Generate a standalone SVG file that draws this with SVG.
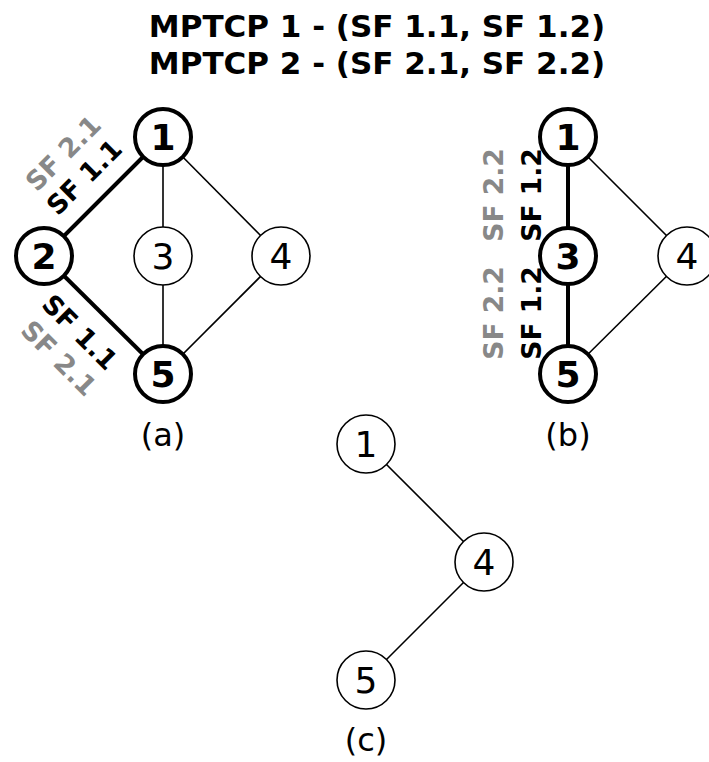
<svg xmlns="http://www.w3.org/2000/svg" width="709" height="762" viewBox="0 0 709 762">
<style>
text{font-family:"DejaVu Sans","Liberation Sans",sans-serif;text-anchor:middle;}
.title{font-size:31px;font-weight:bold;fill:#000;}
.cap{font-size:32px;fill:#000;}
.n circle{fill:#fff;stroke:#000;stroke-width:1.6;}
.n text{font-size:36px;fill:#000;}
.b circle{stroke-width:4;}
.b text{font-weight:bold;}
.e{stroke:#000;stroke-width:1.6;fill:none;}
.eb{stroke:#000;stroke-width:4;fill:none;}
.sf{font-size:26.5px;font-weight:bold;}
.k{fill:#000;}
.g{fill:#888;}
</style>
<rect width="709" height="762" fill="#fff"/>
<text class="title" x="377" y="37">MPTCP 1 - (SF 1.1, SF 1.2)</text>
<text class="title" x="377" y="74">MPTCP 2 - (SF 2.1, SF 2.2)</text>
<g id="connectors">
<line class="eb" x1="163" y1="137" x2="44" y2="256"/>
<line class="eb" x1="44" y1="256" x2="163" y2="374"/>
<line class="e" x1="163" y1="137" x2="163" y2="256"/>
<line class="e" x1="163" y1="256" x2="163" y2="374"/>
<line class="e" x1="163" y1="137" x2="281" y2="256"/>
<line class="e" x1="281" y1="256" x2="163" y2="374"/>
<line class="eb" x1="568" y1="137" x2="568" y2="256"/>
<line class="eb" x1="568" y1="256" x2="568" y2="374"/>
<line class="e" x1="568" y1="137" x2="687" y2="256"/>
<line class="e" x1="687" y1="256" x2="568" y2="374"/>
<line class="e" x1="366" y1="444" x2="484" y2="562"/>
<line class="e" x1="484" y1="562" x2="366" y2="680"/>
</g>
<g id="edge-labels">
<text class="sf k" transform="translate(84,177) rotate(-45)" x="0" y="9.5">SF 1.1</text>
<text class="sf g" transform="translate(63,153) rotate(-45)" x="0" y="9.5">SF 2.1</text>
<text class="sf k" transform="translate(80,332) rotate(45)" x="0" y="9.5">SF 1.1</text>
<text class="sf g" transform="translate(59,358) rotate(45)" x="0" y="9.5">SF 2.1</text>
<text class="sf k" transform="translate(531,195) rotate(-90)" x="0" y="9.5">SF 1.2</text>
<text class="sf g" transform="translate(493,195) rotate(-90)" x="0" y="9.5">SF 2.2</text>
<text class="sf k" transform="translate(531,313) rotate(-90)" x="0" y="9.5">SF 1.2</text>
<text class="sf g" transform="translate(493,313) rotate(-90)" x="0" y="9.5">SF 2.2</text>
</g>
<g id="a-n1" class="n b"><circle cx="163" cy="137" r="28"/><text x="163" y="150">1</text></g>
<g id="a-n2" class="n b"><circle cx="44" cy="256" r="28"/><text x="44" y="269">2</text></g>
<g id="a-n3" class="n"><circle cx="163" cy="256" r="29"/><text x="163" y="269">3</text></g>
<g id="a-n4" class="n"><circle cx="281" cy="256" r="29"/><text x="281" y="269">4</text></g>
<g id="a-n5" class="n b"><circle cx="163" cy="374" r="28"/><text x="163" y="387">5</text></g>
<g id="b-n1" class="n b"><circle cx="568" cy="137" r="28"/><text x="568" y="150">1</text></g>
<g id="b-n3" class="n b"><circle cx="568" cy="256" r="28"/><text x="568" y="269">3</text></g>
<g id="b-n4" class="n"><circle cx="687" cy="256" r="29"/><text x="687" y="269">4</text></g>
<g id="b-n5" class="n b"><circle cx="568" cy="374" r="28"/><text x="568" y="387">5</text></g>
<g id="c-n1" class="n"><circle cx="366" cy="444" r="29"/><text x="366" y="457">1</text></g>
<g id="c-n4" class="n"><circle cx="484" cy="562" r="29"/><text x="484" y="575">4</text></g>
<g id="c-n5" class="n"><circle cx="366" cy="680" r="29"/><text x="366" y="693">5</text></g>
<text class="cap" x="163" y="446">(a)</text>
<text class="cap" x="568" y="446">(b)</text>
<text class="cap" x="366" y="751">(c)</text>
</svg>
